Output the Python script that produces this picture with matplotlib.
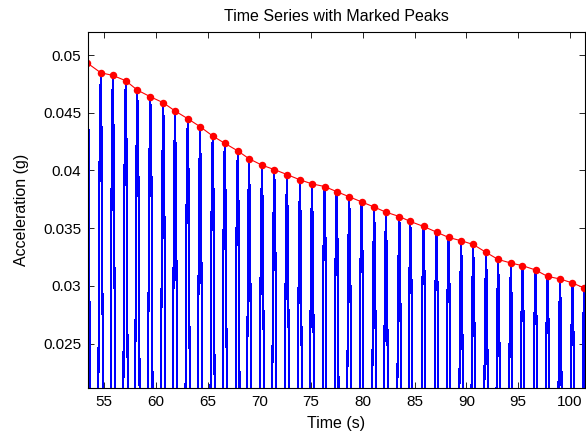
import numpy as np
import matplotlib
matplotlib.use("Agg")
import matplotlib.pyplot as plt
from matplotlib.ticker import FuncFormatter

plt.rcParams['font.family'] = ['Liberation Sans', 'DejaVu Sans']

# Peak times (s) and peak accelerations (g)
peak_times = [53.40, 54.68, 55.84, 57.09, 58.21, 59.47, 60.72, 61.85, 63.08, 64.27,
              65.49, 66.65, 67.91, 69.00, 70.25, 71.44, 72.66, 73.92, 75.08, 76.30,
              77.46, 78.68, 79.87, 81.09, 82.22, 83.52, 84.58, 85.86, 87.11, 88.27,
              89.49, 90.65, 91.90, 93.06, 94.29, 95.41, 96.67, 97.83, 99.04, 100.24,
              101.36]
peak_vals = [0.0493, 0.04847, 0.04824, 0.04778, 0.04697, 0.04639, 0.04587, 0.04516,
             0.04449, 0.04380, 0.04299, 0.04236, 0.04170, 0.04102, 0.04046, 0.04008,
             0.03965, 0.03919, 0.03884, 0.03861, 0.03817, 0.03772, 0.03728, 0.03683,
             0.03639, 0.03601, 0.03558, 0.03515, 0.03466, 0.03420, 0.03391, 0.03359,
             0.03290, 0.03229, 0.03198, 0.03175, 0.03138, 0.03082, 0.03060, 0.03025,
             0.02982]

# Estimated normalised shape of one oscillation cycle (between two peaks)
cycle_phase = [0.0, 0.0833, 0.1667, 0.25, 0.3333, 0.4167, 0.5,
               0.5833, 0.6667, 0.75, 0.8333, 0.9167]
cycle_shape = [1.0, 0.866, 0.5, 0.0, -0.5, -0.866, -1.0,
               -0.866, -0.5, 0.0, 0.5, 0.866]

x_ticks = [55, 60, 65, 70, 75, 80, 85, 90, 95, 100]
y_ticks = [0.025, 0.03, 0.035, 0.04, 0.045, 0.05]

# Build the blue time series from peaks and cycle shape
sig_t, sig_v = [], []
n = len(peak_times)
for i in range(n - 1):
    t0, t1 = peak_times[i], peak_times[i + 1]
    for ph, sh in zip(cycle_phase, cycle_shape):
        amp = peak_vals[i] if ph <= 0.5 else peak_vals[i + 1]
        sig_t.append(t0 + ph * (t1 - t0))
        sig_v.append(sh * amp)
# trailing half cycle
dt_last = peak_times[-1] - peak_times[-2]
for ph, sh in zip(cycle_phase[:7], cycle_shape[:7]):
    sig_t.append(peak_times[-1] + ph * dt_last)
    sig_v.append(sh * peak_vals[-1])

fig = plt.figure(figsize=(5.86, 4.38), dpi=100)
ax = fig.add_axes([88 / 586, 50 / 438, 497 / 586, 356 / 438])

ax.plot(sig_t, sig_v, color=(0, 0, 1), lw=0.8, antialiased=False)
ax.plot(peak_times, peak_vals, color=(1, 0, 0), lw=0.8, marker='o',
        markersize=5.4, markeredgewidth=0, markerfacecolor=(1, 0, 0))

ax.set_xlim(53.45, 101.45)
ax.set_ylim(0.02115, 0.0520)
ax.set_xticks(x_ticks)
ax.set_yticks(y_ticks)
ax.yaxis.set_major_formatter(FuncFormatter(lambda v, p: ('%g' % v)))
ax.tick_params(direction='in', top=True, right=True, length=4, width=0.6,
               labelsize=11, pad=5)
for s in ax.spines.values():
    s.set_linewidth(0.8)

ax.set_title('Time Series with Marked Peaks', fontsize=11.5, pad=8)
ax.set_xlabel('Time (s)', fontsize=11.5, labelpad=5)
ax.set_ylabel('Acceleration (g)', fontsize=11.5, labelpad=10)

fig.savefig('out.png', dpi=100, facecolor='white')
